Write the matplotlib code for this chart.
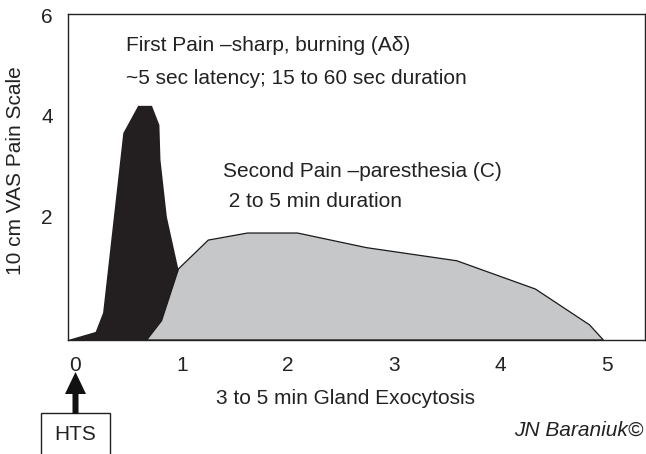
import matplotlib
matplotlib.use("Agg")
import matplotlib.pyplot as plt
import matplotlib.patches as patches
from matplotlib.transforms import IdentityTransform

plt.rcParams['font.family'] = ['Liberation Sans', 'DejaVu Sans']

# baseline of the schematic (bottom of the axis)
base = -0.44

# first pain (A-delta) curve
first_x = [-0.07, 0.19, 0.26, 0.45, 0.59, 0.72, 0.79, 0.80, 0.86, 0.97, 1.10]
first_y = [base, -0.28, 0.10, 3.66, 4.20, 4.20, 3.82, 3.13, 2.00, 0.95, base]

# second pain (C) curve
second_x = [0.67, 0.81, 0.97, 1.25, 1.62, 2.09, 2.74, 3.59, 4.33, 4.84, 4.97]
second_y = [base, -0.06, 0.97, 1.54, 1.68, 1.68, 1.39, 1.13, 0.57, -0.14, base]

x_ticks = [0, 1, 2, 3, 4, 5]
y_ticks = [2, 4, 6]

W, H = 646, 454
FS = 15
fig = plt.figure(figsize=(W / 100, H / 100), dpi=100)
ax = fig.add_axes([68 / W, 1 - 340 / H, (645 - 68) / W, (340 - 14) / H])

ax.fill(first_x, first_y, color='#231f20', lw=0)
ax.fill(second_x, second_y, facecolor='#c6c7c9', edgecolor='#1a1a1a', lw=0.9)

ax.set_xlim(-0.0706, 5.362)
ax.set_ylim(base, 6.02)
ax.set_xticks(x_ticks)
ax.set_yticks(y_ticks)
ax.tick_params(length=0, labelsize=FS, colors='#222222')
ax.tick_params(axis='x', pad=11.5)
ax.tick_params(axis='y', pad=11)
for s in ax.spines.values():
    s.set_linewidth(1.0)
    s.set_color('#222222')

txt = dict(fontsize=FS, color='#222222', va='center', ha='left')
ax.text(0.48, 5.40, 'First Pain \u2013sharp, burning (A\u03b4)', **txt)
ax.text(0.48, 4.75, '~5 sec latency; 15 to 60 sec duration', **txt)
ax.text(1.39, 2.90, 'Second Pain \u2013paresthesia (C)', **txt)
ax.text(1.39, 2.30, ' 2 to 5 min duration', **txt)

# axis labels placed in figure pixels
fig.text(346 / W, 1 - 398 / H, '3 to 5 min Gland Exocytosis', fontsize=FS,
         color='#222222', ha='center', va='center')
fig.text(16 / W, 1 - 171 / H, '10 cm VAS Pain Scale', fontsize=FS,
         color='#222222', ha='center', va='center', rotation=90)
fig.text(643 / W, 1 - 430 / H, 'JN Baraniuk\u00a9', fontsize=FS, style='italic',
         color='#222222', ha='right', va='center')

# HTS box and arrow
box = patches.Rectangle((41, -10), 69, H - 413 + 10, transform=IdentityTransform(),
                        facecolor='white', edgecolor='#222222', lw=1.0)
fig.add_artist(box)
fig.text(75 / W, 1 - 435 / H, 'HTS', fontsize=FS, color='#222222',
         ha='center', va='center')
arrow = patches.FancyArrow(75.5, H - 414, 0, 414 - 372, width=6, head_width=21,
                           head_length=22, length_includes_head=True,
                           transform=IdentityTransform(), color='#111111', lw=0)
fig.add_artist(arrow)

fig.savefig('out.png', dpi=100, facecolor='white')
